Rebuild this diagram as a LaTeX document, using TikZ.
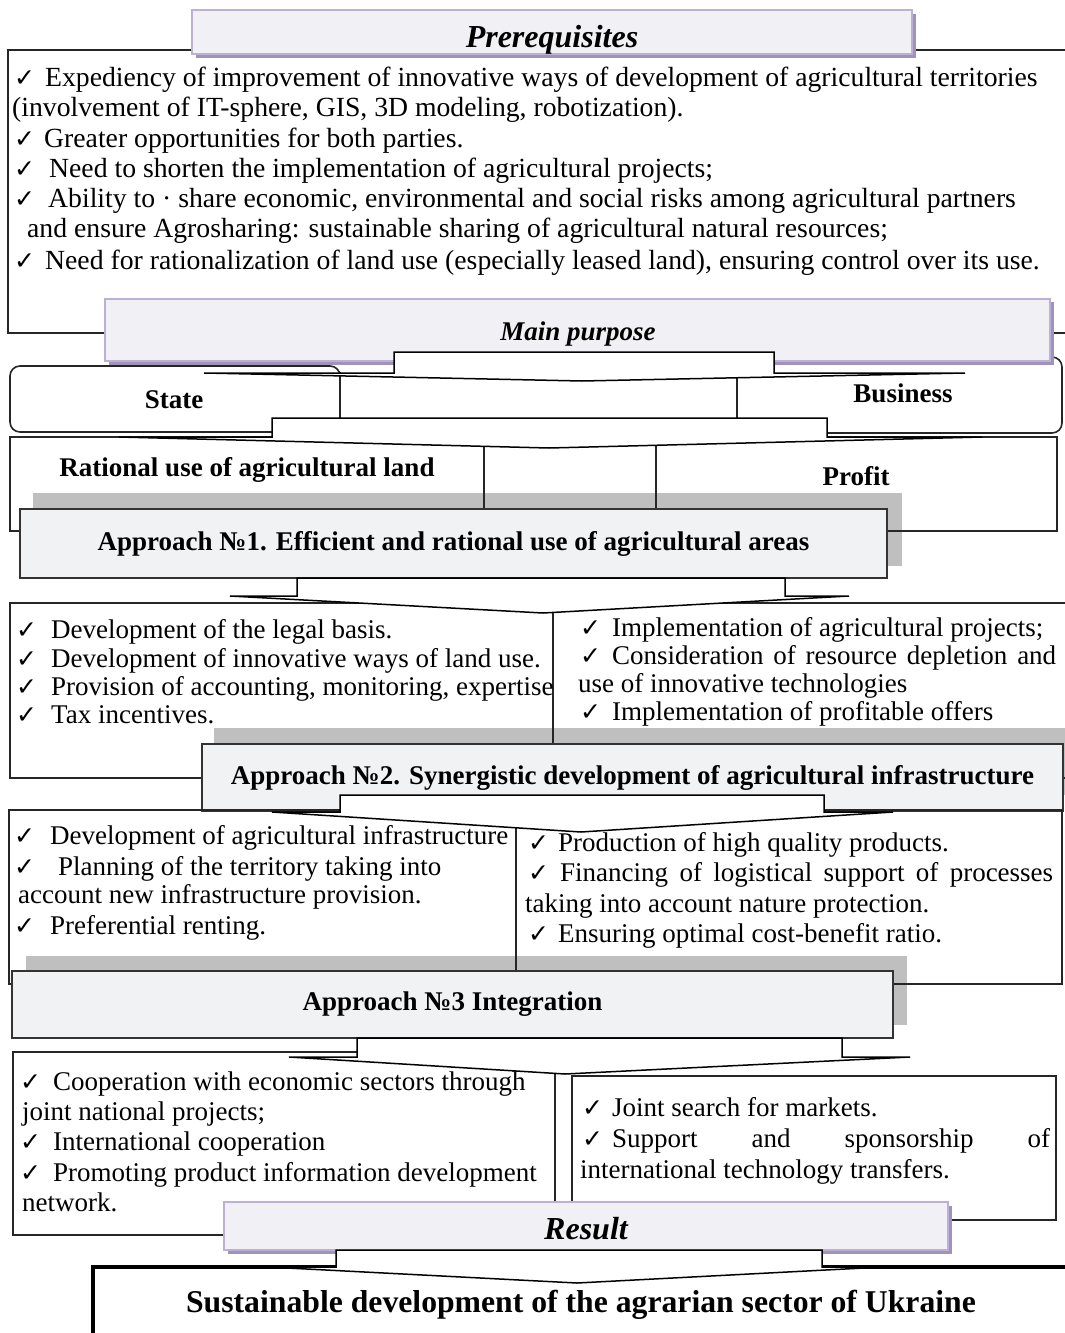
\documentclass[tikz,border=0pt]{standalone}
\usepackage{fontspec}
\setmainfont{Liberation Serif}
\newfontfamily\ckfont{DejaVu Sans}
\definecolor{bannerfill}{HTML}{F1F1F5}
\definecolor{bannerline}{HTML}{BCB0D6}
\definecolor{bannershadow}{HTML}{A092BA}
\definecolor{apfill}{HTML}{F1F2F4}
\definecolor{apshadow}{HTML}{BFBFBF}
\newcommand{\ck}{{\ckfont\fontsize{25}{25}\selectfont ✓}}
\newcommand{\ckb}[1]{\makebox[#1pt][l]{\ck}}
\begin{document}
\begin{tikzpicture}[x=1pt,y=-1pt,
  body/.style={anchor=base west, inner sep=0pt, font=\fontsize{27}{30}\selectfont},
  pbody/.style={anchor=base west, inner sep=0pt, font=\fontsize{27.7}{30}\selectfont},
  boxline/.style={draw=black!85, line width=1.6pt},
  divline/.style={draw=black!85, line width=1.1pt},
  banner/.style={draw=bannerline, line width=1.2pt, fill=bannerfill, inner sep=0pt},
  bannertext/.style={anchor=base, inner sep=0pt, font=\bfseries\itshape\fontsize{32}{36}\selectfont},
  approach/.style={draw=black!80, line width=1.4pt, fill=apfill, inner sep=0pt, font=\bfseries\fontsize{27}{30}\selectfont},
  blockarrow/.style={draw=black, line width=1.5pt, fill=white, line join=miter},
  lbl/.style={inner sep=0pt, font=\bfseries\fontsize{27}{30}\selectfont}
]
\useasboundingbox (0,0) rectangle (1065,1333);
\fill[white] (0,0) rectangle (1065,1333);

% ---------- Prerequisites ----------
\draw[boxline] (8,50) rectangle (1085,333);
\fill[bannershadow] (196,14) rectangle (916,58);
\node[banner, minimum width=720pt, minimum height=44pt] (prereq) at (552,32) {};
\node[bannertext] (prereqt) at (552,47) {Prerequisites};
\node[pbody] (p1) at (14,86) {\ckb{31}Expediency of improvement of innovative ways of development of agricultural territories};
\node[pbody] (p2) at (12,116) {(involvement of IT-sphere, GIS, 3D modeling, robotization).};
\node[pbody] (p3) at (14,147) {\ckb{30}Greater opportunities for both parties.};
\node[pbody] (p4) at (14,177) {\ckb{35}Need to shorten the implementation of agricultural projects;};
\node[pbody] (p5) at (14,207) {\ckb{34}Ability to · share economic, environmental and social risks among agricultural partners};
\node[pbody] (p6) at (27,237) {and ensure Agrosharing: sustainable sharing of agricultural natural resources;};
\node[pbody] (p7) at (14,269) {\ckb{31}Need for rationalization of land use (especially leased land), ensuring control over its use.};

% ---------- State / Business ----------
\draw[boxline, rounded corners=10pt] (10,366) rectangle (340,432);
\draw[boxline, rounded corners=10pt] (737,357) rectangle (1062,433);
\draw[divline] (340,372) -- (340,418);
\draw[divline] (737,372) -- (737,418);
\node[lbl] (state) at (174,400) {State};
\node[lbl] (business) at (903,393) {Business};

% ---------- Main purpose ----------
\fill[bannershadow] (109,302) rectangle (1054,365);
\node[banner, minimum width=945pt, minimum height=62pt] (purpose) at (577.5,330) {};
\node[bannertext, font=\bfseries\itshape\fontsize{27}{30}\selectfont] (purposet) at (578,340) {Main purpose};
\draw[blockarrow] (394,352) -- (394,373) -- (204,373) -- (582,381) -- (965,373) -- (774,373) -- (774,352) -- cycle;

% ---------- Rational use / Profit ----------
\fill[apshadow] (33,493) rectangle (902,566);
\draw[boxline] (10,437) rectangle (1057,531);
\draw[divline] (484,440) -- (484,509);
\draw[divline] (656,440) -- (656,509);
\node[lbl] (rational) at (247,470) {Rational use of agricultural land};
\node[lbl] (profit) at (856,476) {Profit};
\draw[blockarrow] (272,418) -- (272,437) -- (119,437) -- (549,448) -- (982,437) -- (827,437) -- (827,418) -- cycle;

% ---------- Approach 1 ----------
\node[approach, minimum width=867pt, minimum height=69pt] (ap1) at (453.5,543.5) {Approach №1. Efficient and rational use of agricultural areas};

% box after approach 1
\fill[apshadow] (214,728) rectangle (1080,795);
\draw[boxline] (10,603) rectangle (1085,778);
\draw[divline] (553,603) -- (553,744);
\draw[blockarrow] (297,578) -- (297,596) -- (230,596) -- (543,613) -- (849,596) -- (785,596) -- (785,578) -- cycle;
\node[body] (a1l1) at (16,638) {\ckb{35}Development of the legal basis.};
\node[body] (a1l2) at (16,667) {\ckb{35}Development of innovative ways of land use.};
\node[body] (a1l3) at (16,695) {\ckb{35}Provision of accounting, monitoring, expertise};
\node[body] (a1l4) at (16,723) {\ckb{35}Tax incentives.};
\node[body] (a1r1) at (580,636) {\ckb{32}Implementation of agricultural projects;};
\node[body] (a1r2) at (580,664) {\ckb{32}\makebox[444pt][s]{Consideration of resource depletion and}};
\node[body] (a1r3) at (578,692) {use of innovative technologies};
\node[body] (a1r4) at (580,720) {\ckb{32}Implementation of profitable offers};

% ---------- Approach 2 ----------
\node[approach, minimum width=861pt, minimum height=67pt] (ap2) at (632.5,777.5) {Approach №2. Synergistic development of agricultural infrastructure};

% box after approach 2
\fill[apshadow] (26,956) rectangle (907,1025);
\draw[boxline] (9,810) rectangle (1062,984);
\draw[divline] (516,810) -- (516,971);
\draw[blockarrow] (340,795) -- (340,812) -- (272,812) -- (581,832) -- (893,812) -- (824,812) -- (824,795) -- cycle;
\node[body] (a2l1) at (14,844) {\ckb{36}Development of agricultural infrastructure};
\node[body] (a2l2) at (14,875) {\ckb{44}Planning of the territory taking into};
\node[body] (a2l3) at (18,903) {account new infrastructure provision.};
\node[body] (a2l4) at (14,934) {\ckb{36}Preferential renting.};
\node[body] (a2r1) at (528,851) {\ckb{30}Production of high quality products.};
\node[body] (a2r2) at (528,881) {\ckb{32}\makebox[493pt][s]{Financing of logistical support of processes}};
\node[body] (a2r3) at (525,912) {taking into account nature protection.};
\node[body] (a2r4) at (528,942) {\ckb{30}Ensuring optimal cost-benefit ratio.};

% ---------- Approach 3 ----------
\node[approach, minimum width=881pt, minimum height=67pt] (ap3) at (452.5,1004.5) {Approach №3 Integration};

% boxes after approach 3
\draw[boxline] (13,1052) rectangle (555,1235);
\draw[boxline] (572,1076) rectangle (1056,1220);
\draw[blockarrow] (357,1038) -- (357,1057) -- (289,1057) -- (565,1074) -- (910,1057) -- (842,1057) -- (842,1038) -- cycle;
\node[body] (a3l1) at (20,1090) {\ckb{33}Cooperation with economic sectors through};
\node[body] (a3l2) at (22,1120) {joint national projects;};
\node[body] (a3l3) at (20,1150) {\ckb{33}International cooperation};
\node[body] (a3l4) at (20,1181) {\ckb{33}Promoting product information development};
\node[body] (a3l5) at (22,1211) {network.};
\node[body] (a3r1) at (582,1116) {\ckb{30}Joint search for markets.};
\node[body] (a3r2) at (582,1147) {\ckb{30}\makebox[438pt][s]{Support and sponsorship of}};
\node[body] (a3r3) at (580,1178) {international technology transfers.};

% ---------- Result ----------
\fill[bannershadow] (228,1206) rectangle (952,1254);
\node[banner, minimum width=724pt, minimum height=48pt] (result) at (586,1226) {};
\node[bannertext] (resultt) at (586,1239) {Result};
\draw[line width=4pt] (93,1345) -- (93,1267) -- (1085,1267);
\draw[blockarrow] (336,1250) -- (336,1267) -- (268,1267) -- (577,1283) -- (883,1267) -- (822,1267) -- (822,1250) -- cycle;
\node[inner sep=0pt, font=\bfseries\fontsize{31.7}{36}\selectfont] (final) at (581,1305) {Sustainable development of the agrarian sector of Ukraine};
\end{tikzpicture}
\end{document}
